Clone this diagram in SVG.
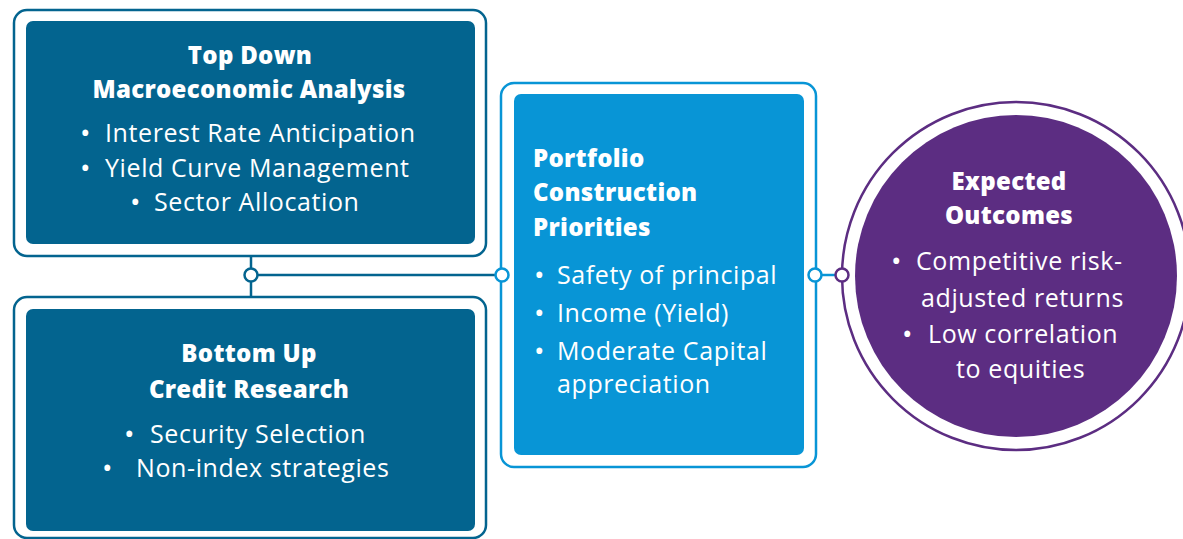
<svg xmlns="http://www.w3.org/2000/svg" width="1183" height="539" viewBox="0 0 1183 539">
<style>
.ob{fill:#fff;stroke:#03648f;stroke-width:2.5}
.ib{fill:#03648f}
.ol{fill:#fff;stroke:#0895d6;stroke-width:2.5}
.il{fill:#0895d6}
.h{font-family:"Open Sans",Lato,sans-serif;font-weight:800;font-size:24px;letter-spacing:0.3px;fill:#fff}
.t{font-family:"Open Sans",Lato,sans-serif;font-weight:400;font-size:25px;letter-spacing:0.6px;fill:#fff}
.b{font-family:"Open Sans",Lato,sans-serif;font-size:28px;fill:#fff}
.c{text-anchor:middle}
.cd{fill:none;stroke:#03648f;stroke-width:2.5}
.cl{fill:none;stroke:#0895d6;stroke-width:2.5}
</style>
<rect width="1183" height="539" fill="#fff"/>
<g id="top-down">
<rect class="ob" x="14" y="10" width="472" height="246" rx="13"/>
<rect class="ib" x="26" y="21" width="449" height="223" rx="7"/>
<text class="h c" x="250" y="64">Top Down</text>
<text class="h c" x="249" y="98">Macroeconomic Analysis</text>
<text class="b" x="80" y="143">•</text><text class="t" x="105" y="142">Interest Rate Anticipation</text>
<text class="b" x="80" y="178">•</text><text class="t" x="105" y="177">Yield Curve Management</text>
<text class="b" x="130" y="212">•</text><text class="t" x="154" y="211">Sector Allocation</text>
</g>
<g id="bottom-up">
<rect class="ob" x="14" y="297" width="472" height="241" rx="13"/>
<rect class="ib" x="26" y="309" width="449" height="222" rx="7"/>
<text class="h c" x="249" y="362">Bottom Up</text>
<text class="h c" x="249" y="398">Credit Research</text>
<text class="b" x="124" y="444">•</text><text class="t" x="150" y="443">Security Selection</text>
<text class="b" x="102" y="478">•</text><text class="t" x="136" y="477">Non-index strategies</text>
</g>
<g id="portfolio">
<rect class="ol" x="501" y="83" width="315" height="384" rx="13"/>
<rect class="il" x="514" y="94" width="290" height="361" rx="7"/>
<text class="h" x="533" y="167">Portfolio</text>
<text class="h" x="533" y="201">Construction</text>
<text class="h" x="533" y="236">Priorities</text>
<text class="b" x="534" y="285">•</text><text class="t" x="557" y="284">Safety of principal</text>
<text class="b" x="534" y="323">•</text><text class="t" x="557" y="322">Income (Yield)</text>
<text class="b" x="534" y="361">•</text><text class="t" x="557" y="360">Moderate Capital</text>
<text class="t" x="557" y="393">appreciation</text>
</g>
<g id="outcomes">
<circle cx="1016" cy="276" r="174" fill="#fff" stroke="#5c2d82" stroke-width="2.5"/>
<circle cx="1016" cy="276" r="161" fill="#5c2d82"/>
<text class="h c" x="1009" y="190">Expected</text>
<text class="h c" x="1009" y="224">Outcomes</text>
<text class="b" x="891" y="271">•</text><text class="t" x="916" y="270">Competitive risk-</text>
<text class="t" x="921" y="307">adjusted returns</text>
<text class="b" x="902" y="344">•</text><text class="t" x="928" y="343">Low correlation</text>
<text class="t" x="956" y="378">to equities</text>
</g>
<g id="connectors">
<line class="cd" x1="251" y1="256" x2="251" y2="297"/>
<line class="cd" x1="251" y1="275" x2="502" y2="275"/>
<circle cx="251" cy="275" r="6.5" fill="#fff" stroke="#03648f" stroke-width="2.5"/>
<circle cx="502" cy="275" r="6.5" fill="#fff" stroke="#0895d6" stroke-width="2.5"/>
<line class="cl" x1="815" y1="275" x2="842" y2="275"/>
<circle cx="815" cy="275" r="6.5" fill="#fff" stroke="#0895d6" stroke-width="2.5"/>
<circle cx="842" cy="275" r="6.5" fill="#fff" stroke="#5c2d82" stroke-width="2.5"/>
</g>
</svg>
